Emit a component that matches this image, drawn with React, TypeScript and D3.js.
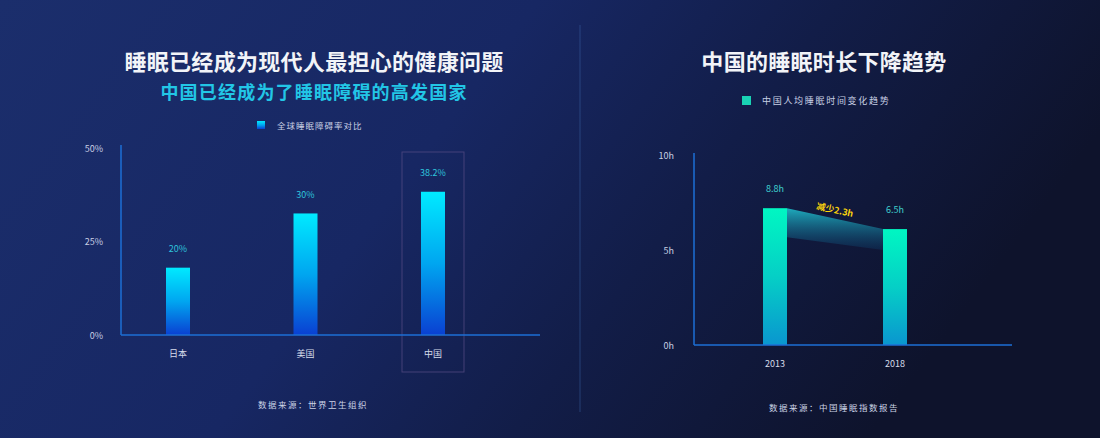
import * as d3 from "d3";

// left chart data
const leftTitle = "睡眠已经成为现代人最担心的健康问题";
const leftSubtitle = "中国已经成为了睡眠障碍的高发国家";
const leftLegend = "全球睡眠障碍率对比";
const leftSource = "数据来源：世界卫生组织";
const countries = ["日本", "美国", "中国"];
const disorderRates = [18, 32.5, 38.3];
const disorderLabels = ["20%", "30%", "38.2%"];
const leftTicks = [0, 25, 50];

// right chart data
const rightTitle = "中国的睡眠时长下降趋势";
const rightLegend = "中国人均睡眠时间变化趋势";
const rightSource = "数据来源：中国睡眠指数报告";
const years = ["2013", "2018"];
const sleepHours = [7.2, 6.1];
const sleepLabels = ["8.8h", "6.5h"];
const dropLabel = "减少2.3h";
const rightTicks = [0, 5, 10];

const W = 1100;
const H = 438;
const FONT = "'Noto Sans CJK SC', 'Noto Sans', sans-serif";

export default function App() {
  // left scales
  const yL = d3.scaleLinear().domain([0, 50]).range([335, 148]);
  const xL = d3.scalePoint<string>().domain(countries).range([178, 433]);
  // right scales
  const yR = d3.scaleLinear().domain([0, 10]).range([345, 155]);
  const xR = d3.scalePoint<string>().domain(years).range([775, 895]);

  const barW = 24;

  // connecting band between the two right bars
  const x0 = xR(years[0])! + barW / 2;
  const x1 = xR(years[1])! - barW / 2;
  const bandPts: [number, number][] = [
    [x0, yR(sleepHours[0])],
    [x1, yR(sleepHours[1])],
    [x1, yR(sleepHours[1]) + 21],
    [x0, yR(sleepHours[0]) + 29],
  ];
  const bandPath = d3.line()(bandPts) + "Z";
  const slope =
    (Math.atan2(yR(sleepHours[1]) - yR(sleepHours[0]), x1 - x0) * 180) / Math.PI;
  const midX = (x0 + x1) / 2;
  const midY = (yR(sleepHours[0]) + yR(sleepHours[1])) / 2 - 9;

  const china = countries[2];

  return (
    <div style={{ position: "absolute", left: 0, top: 0 }}>
      <svg width={W} height={H} style={{ display: "block", fontFamily: FONT }}>
        <defs>
          <linearGradient id="bg" x1="0" y1="0" x2="1" y2="0.3">
            <stop offset="0" stopColor="#1b2e6c" />
            <stop offset="0.45" stopColor="#172763" />
            <stop offset="0.7" stopColor="#121d48" />
            <stop offset="1" stopColor="#0e132c" />
          </linearGradient>
          <linearGradient id="barL" x1="0" y1="0" x2="0" y2="1">
            <stop offset="0" stopColor="#00eaff" />
            <stop offset="0.5" stopColor="#00a6f0" />
            <stop offset="1" stopColor="#0a40d2" />
          </linearGradient>
          <linearGradient id="barR" x1="0" y1="0" x2="0" y2="1">
            <stop offset="0" stopColor="#00f7c2" />
            <stop offset="0.5" stopColor="#05cfc6" />
            <stop offset="1" stopColor="#0a96cf" />
          </linearGradient>
          <linearGradient id="band" x1="0" y1="0" x2="0" y2="1">
            <stop offset="0" stopColor="#1fb4c4" stopOpacity="0.95" />
            <stop offset="1" stopColor="#0d3a66" stopOpacity="0.35" />
          </linearGradient>
        </defs>

        <rect width={W} height={H} fill="url(#bg)" />

        {/* divider */}
        <line x1={580} x2={580} y1={25} y2={412} stroke="#3d6bb0" strokeOpacity={0.45} strokeWidth={1} />

        {/* ===== left panel ===== */}
        <text x={314} y={60} textAnchor="middle" dominantBaseline="central" fill="#f2f4f8" fontSize={22} fontWeight={700} letterSpacing={0.3}>
          {leftTitle}
        </text>
        <text x={314} y={91} textAnchor="middle" dominantBaseline="central" fill="#22c6e6" fontSize={18} fontWeight={700} letterSpacing={1.2}>
          {leftSubtitle}
        </text>

        <rect x={257} y={121} width={8} height={8} fill="url(#barL)" />
        <text x={277} y={125} dominantBaseline="central" fill="#c8d0e4" fontSize={8.5} letterSpacing={1}>
          {leftLegend}
        </text>

        {leftTicks.map((t) => (
          <text key={t} x={103} y={yL(t)} textAnchor="end" dominantBaseline="central" fill="#c8d0e4" fontSize={9}>
            {t}%
          </text>
        ))}

        {/* highlight box around China */}
        <rect
          x={xL(china)! - 31}
          y={152}
          width={62}
          height={220}
          fill="none"
          stroke="#5a4f86"
          strokeOpacity={0.7}
          strokeWidth={1}
        />

        {countries.map((c, i) => (
          <g key={c}>
            <rect
              x={xL(c)! - barW / 2}
              y={yL(disorderRates[i])}
              width={barW}
              height={yL(0) - yL(disorderRates[i])}
              fill="url(#barL)"
            />
            <text x={xL(c)} y={yL(disorderRates[i]) - 19} textAnchor="middle" dominantBaseline="central" fill="#2ec4dc" fontSize={9}>
              {disorderLabels[i]}
            </text>
            <text x={xL(c)} y={353} textAnchor="middle" dominantBaseline="central" fill="#d6dcea" fontSize={9}>
              {c}
            </text>
          </g>
        ))}

        <line x1={121} x2={121} y1={145} y2={335} stroke="#1d6fd6" strokeWidth={1.5} />
        <line x1={121} x2={540} y1={335} y2={335} stroke="#1d6fd6" strokeWidth={1.5} />

        <text x={313} y={404} textAnchor="middle" dominantBaseline="central" fill="#ccd3e6" fontSize={8.5} letterSpacing={1.5}>
          {leftSource}
        </text>

        {/* ===== right panel ===== */}
        <text x={824} y={60} textAnchor="middle" dominantBaseline="central" fill="#f2f4f8" fontSize={22} fontWeight={700} letterSpacing={0.3}>
          {rightTitle}
        </text>

        <rect x={742} y={96} width={9} height={9} fill="#19d2b4" />
        <text x={762} y={100.5} dominantBaseline="central" fill="#c8d0e4" fontSize={9} letterSpacing={1.7}>
          {rightLegend}
        </text>

        {rightTicks.map((t) => (
          <text key={t} x={674} y={yR(t)} textAnchor="end" dominantBaseline="central" fill="#c8d0e4" fontSize={9}>
            {t}h
          </text>
        ))}

        <path d={bandPath} fill="url(#band)" />

        {years.map((yr, i) => (
          <g key={yr}>
            <rect
              x={xR(yr)! - barW / 2}
              y={yR(sleepHours[i])}
              width={barW}
              height={yR(0) - yR(sleepHours[i])}
              fill="url(#barR)"
            />
            <text x={xR(yr)} y={yR(sleepHours[i]) - 20} textAnchor="middle" dominantBaseline="central" fill="#3fcfcf" fontSize={9}>
              {sleepLabels[i]}
            </text>
            <text x={xR(yr)} y={363} textAnchor="middle" dominantBaseline="central" fill="#d6dcea" fontSize={9}>
              {yr}
            </text>
          </g>
        ))}

        <text
          x={midX}
          y={midY}
          textAnchor="middle"
          dominantBaseline="central"
          fill="#ffd60a"
          fontSize={9}
          fontWeight={700}
          transform={`rotate(${slope}, ${midX}, ${midY})`}
        >
          {dropLabel}
        </text>

        <line x1={694} x2={694} y1={153} y2={345} stroke="#1d6fd6" strokeWidth={1.5} />
        <line x1={694} x2={1012} y1={345} y2={345} stroke="#1d6fd6" strokeWidth={1.5} />

        <text x={834} y={407} textAnchor="middle" dominantBaseline="central" fill="#ccd3e6" fontSize={8.5} letterSpacing={1.5}>
          {rightSource}
        </text>
      </svg>
    </div>
  );
}
